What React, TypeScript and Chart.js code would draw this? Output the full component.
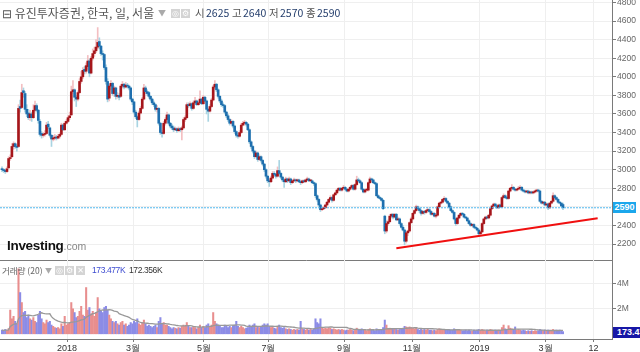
import React, { useEffect, useRef } from "react";
import { Chart, registerables } from "chart.js";
Chart.register(...registerables);

const opens = [
3010,3000,2990,2980,3020,3120,3140,3250,3280,3250,
3250,3680,3670,3850,3820,3650,3610,3560,3600,3560,
3640,3690,3640,3520,3390,3370,3380,3390,3490,3450,
3370,3330,3340,3350,3340,3360,3380,3480,3430,3500,
3520,3560,3590,3840,3860,3780,3760,3830,3950,4000,
4080,4060,4110,4170,4040,4200,4250,4280,4320,4380,
4330,4250,4240,4100,3950,3770,3900,3930,3820,3880,
3790,3800,3790,3900,3920,3890,3910,3900,3880,3760,
3730,3620,3570,3540,3610,3660,3760,3880,3840,3830,
3790,3760,3720,3700,3650,3660,3500,3400,3390,3500,
3540,3590,3500,3470,3450,3430,3440,3420,3440,3430,
3450,3540,3560,3700,3690,3710,3660,3720,3740,3700,
3720,3760,3710,3780,3740,3650,3630,3680,3750,3890,
3920,3860,3790,3740,3700,3690,3620,3580,3540,3500,
3520,3470,3410,3370,3360,3400,3480,3500,3510,3490,
3430,3300,3250,3200,3140,3180,3110,3140,3100,3060,
3000,2930,2880,2870,2910,2960,2950,2930,2990,2960,
2920,2890,2870,2900,2880,2900,2860,2880,2890,2880,
2890,2870,2860,2880,2870,2890,2900,2880,2880,2860,
2850,2720,2680,2620,2570,2580,2590,2620,2650,2680,
2700,2670,2730,2750,2780,2800,2780,2800,2810,2790,
2770,2790,2810,2830,2790,2840,2890,2880,2860,2790,
2760,2780,2780,2860,2900,2890,2860,2850,2720,2700,
2690,2670,2500,2340,2420,2440,2500,2520,2490,2520,
2460,2470,2420,2380,2350,2230,2320,2340,2430,2470,
2530,2560,2600,2580,2560,2530,2550,2540,2560,2570,
2550,2520,2530,2500,2510,2600,2640,2650,2680,2690,
2660,2640,2600,2560,2540,2470,2420,2480,2510,2530,
2520,2490,2480,2450,2420,2400,2410,2380,2370,2350,
2310,2330,2420,2470,2490,2480,2510,2580,2610,2630,
2610,2590,2620,2600,2700,2720,2700,2690,2770,2800,
2810,2790,2780,2790,2800,2810,2780,2770,2760,2770,
2750,2760,2750,2760,2770,2780,2770,2660,2640,2650,
2620,2630,2590,2640,2660,2720,2700,2680,2650,2640,2625
];

const highs = [
3030,3010,3000,3030,3140,3160,3280,3300,3290,3270,
3700,3750,3920,3880,3840,3700,3650,3640,3620,3700,
3740,3710,3650,3540,3410,3400,3420,3510,3520,3460,
3380,3370,3380,3370,3380,3400,3500,3490,3520,3540,
3580,3620,3900,3960,3870,3800,3850,3980,4060,4100,
4110,4150,4230,4190,4220,4300,4320,4400,4530,4420,
4340,4280,4250,4130,3980,3920,3960,3940,3900,3890,
3830,3820,3920,3950,3930,3940,3930,3910,3890,3770,
3740,3640,3580,3630,3680,3780,3920,3900,3860,3840,
3800,3770,3740,3710,3690,3670,3510,3420,3520,3560,
3620,3600,3510,3490,3470,3460,3450,3460,3450,3470,
3560,3580,3720,3720,3730,3720,3740,3780,3750,3740,
3850,3770,3800,3790,3750,3660,3700,3770,3910,3960,
3930,3870,3800,3760,3720,3700,3630,3600,3550,3540,
3530,3480,3420,3390,3420,3500,3520,3530,3520,3500,
3440,3310,3260,3210,3200,3190,3160,3150,3110,3070,
3010,2940,2900,2930,2980,2980,2960,3030,3100,2970,
2930,2900,2920,2910,2920,2910,2890,2910,2900,2900,
2900,2880,2890,2890,2900,2920,2910,2890,2890,2870,
2860,2730,2690,2630,2600,2610,2630,2660,2690,2720,
2710,2740,2760,2790,2810,2810,2810,2830,2820,2800,
2800,2820,2840,2840,2850,2930,2910,2890,2870,2800,
2790,2800,2870,2920,2910,2900,2870,2860,2730,2710,
2700,2680,2510,2450,2460,2520,2530,2530,2530,2530,
2490,2480,2430,2400,2360,2330,2350,2440,2490,2540,
2570,2620,2610,2590,2570,2560,2560,2570,2590,2580,
2560,2540,2540,2520,2610,2650,2660,2690,2710,2700,
2670,2650,2610,2570,2550,2480,2490,2520,2540,2540,
2530,2500,2490,2460,2430,2420,2420,2390,2380,2360,
2340,2430,2480,2500,2500,2520,2590,2620,2640,2640,
2620,2630,2630,2710,2740,2730,2710,2780,2810,2840,
2820,2800,2800,2820,2830,2820,2790,2780,2780,2780,
2770,2770,2770,2780,2790,2790,2780,2670,2660,2660,
2640,2640,2650,2670,2750,2730,2710,2690,2660,2650,2640
];

const lows = [
2980,2970,2960,2970,3010,3100,3130,3220,3230,3200,
3240,3620,3660,3780,3620,3570,3540,3530,3520,3550,
3620,3620,3500,3360,3340,3350,3360,3380,3440,3350,
3250,3310,3320,3320,3330,3340,3370,3420,3420,3490,
3510,3540,3580,3820,3740,3680,3740,3820,3930,3980,
4030,4040,4080,4000,4030,4180,4220,4260,4300,4300,
4230,4180,4080,3920,3730,3740,3860,3800,3790,3760,
3770,3750,3780,3880,3870,3880,3880,3860,3740,3700,
3600,3550,3460,3530,3600,3650,3750,3820,3800,3770,
3740,3700,3680,3630,3620,3480,3380,3350,3380,3480,
3520,3480,3450,3430,3410,3420,3400,3410,3410,3320,
3440,3520,3550,3670,3680,3640,3650,3710,3690,3690,
3710,3700,3700,3730,3600,3520,3620,3670,3740,3870,
3840,3770,3720,3680,3670,3600,3560,3520,3480,3490,
3450,3390,3350,3340,3350,3390,3470,3480,3470,3420,
3280,3230,3180,3120,3130,3090,3100,3080,3040,2980,
2910,2860,2820,2860,2900,2930,2910,2920,2950,2900,
2870,2810,2860,2860,2870,2840,2850,2870,2860,2870,
2860,2840,2850,2860,2860,2880,2870,2870,2850,2830,
2700,2660,2600,2550,2560,2570,2580,2610,2640,2670,
2650,2660,2720,2740,2770,2770,2770,2790,2780,2760,
2760,2780,2800,2780,2780,2830,2870,2850,2780,2750,
2750,2770,2770,2850,2870,2850,2840,2710,2690,2680,
2660,2570,2310,2320,2400,2430,2480,2470,2480,2450,
2450,2400,2370,2340,2190,2210,2290,2330,2420,2460,
2520,2550,2570,2540,2510,2520,2520,2530,2550,2540,
2510,2510,2490,2480,2500,2590,2630,2640,2670,2650,
2630,2590,2550,2530,2460,2400,2410,2470,2500,2510,
2480,2470,2440,2410,2390,2390,2370,2360,2340,2290,
2290,2320,2410,2460,2470,2470,2500,2570,2600,2600,
2580,2580,2590,2590,2690,2690,2680,2680,2760,2790,
2780,2770,2770,2780,2790,2770,2760,2750,2750,2740,
2740,2740,2740,2750,2760,2760,2650,2630,2630,2610,
2610,2570,2580,2630,2650,2690,2670,2640,2630,2600,2570
];

const closes = [
3000,2990,2980,3010,3120,3130,3250,3280,3250,3240,
3660,3660,3830,3830,3650,3600,3560,3600,3560,3640,
3690,3640,3530,3380,3370,3380,3390,3480,3460,3370,
3330,3340,3350,3340,3360,3380,3480,3430,3500,3520,
3560,3580,3840,3860,3780,3760,3830,3950,4000,4070,
4060,4120,4170,4040,4200,4250,4280,4320,4370,4330,
4250,4240,4100,3950,3760,3900,3930,3820,3880,3790,
3800,3780,3900,3920,3890,3910,3900,3880,3760,3730,
3620,3570,3540,3610,3660,3760,3880,3840,3820,3790,
3760,3720,3700,3650,3660,3500,3400,3390,3500,3540,
3590,3500,3470,3450,3430,3440,3420,3440,3430,3450,
3540,3560,3700,3690,3710,3660,3720,3740,3700,3720,
3760,3710,3780,3740,3650,3630,3680,3750,3890,3920,
3860,3790,3740,3700,3690,3620,3580,3540,3500,3520,
3470,3410,3370,3360,3400,3480,3500,3510,3490,3430,
3300,3250,3200,3140,3180,3110,3140,3100,3060,3000,
2930,2880,2870,2910,2960,2950,2930,2990,2960,2920,
2890,2870,2900,2880,2900,2860,2880,2890,2880,2890,
2870,2860,2880,2870,2890,2900,2880,2880,2860,2850,
2720,2680,2620,2570,2580,2590,2620,2650,2680,2700,
2670,2730,2750,2780,2800,2780,2800,2810,2790,2770,
2790,2810,2830,2790,2840,2890,2880,2860,2790,2760,
2780,2780,2860,2900,2890,2860,2850,2720,2700,2690,
2670,2580,2340,2420,2440,2500,2520,2490,2520,2460,
2470,2420,2380,2350,2230,2320,2340,2430,2470,2530,
2560,2600,2580,2560,2530,2550,2540,2560,2570,2550,
2520,2530,2500,2510,2600,2640,2650,2680,2690,2660,
2640,2600,2560,2540,2470,2420,2480,2510,2530,2520,
2490,2480,2450,2420,2400,2410,2380,2370,2350,2310,
2330,2420,2470,2490,2480,2510,2580,2610,2630,2610,
2590,2620,2600,2700,2720,2700,2690,2770,2800,2810,
2790,2780,2790,2800,2810,2780,2770,2760,2770,2750,
2760,2750,2760,2770,2780,2770,2660,2640,2650,2620,
2630,2590,2640,2660,2720,2700,2680,2650,2640,2610,2590
];

// volume in thousands of shares
const volumes = [
300,250,350,280,420,1900,1200,1400,1000,800,
5200,3300,2500,1700,1800,1300,1500,1200,1100,1300,
1000,900,1500,1800,1200,900,800,1100,900,1000,
700,600,500,450,500,400,800,600,1400,700,
800,900,2500,2000,1700,1300,1400,1800,2200,1500,
1400,3700,1900,2100,1600,1800,1400,1700,2900,2000,
1800,1700,2100,2200,1900,1500,1200,1000,900,1000,
800,700,900,1000,700,800,600,700,900,800,
1000,900,1200,800,700,900,1100,800,600,700,
600,500,600,700,500,1000,1300,800,900,700,
700,600,500,400,500,450,400,500,450,600,
700,600,900,600,500,500,600,500,400,500,
700,500,600,500,700,800,600,700,1700,1000,
800,700,600,500,500,700,600,500,600,500,
600,700,1000,600,500,600,500,400,450,500,
700,600,700,800,500,600,500,600,700,800,
700,800,600,500,600,450,400,600,700,500,
450,500,400,350,400,350,300,350,300,350,
300,1000,400,350,300,400,300,350,300,400,
1200,900,800,1200,500,400,450,400,500,450,
350,400,350,300,350,300,350,300,250,300,
300,350,300,250,300,450,350,300,400,350,
300,250,350,400,300,300,250,400,350,300,
300,500,1100,700,400,450,400,350,400,350,
300,350,400,450,600,550,500,550,500,450,
400,500,350,300,350,300,350,300,400,300,
300,250,300,250,350,400,350,300,350,300,
300,350,300,300,400,350,300,350,300,250,
250,300,250,300,250,200,300,250,300,350,
300,350,300,250,300,250,350,300,250,300,
250,300,250,500,700,400,350,650,450,400,
350,550,300,350,300,250,300,250,200,250,
200,250,200,250,200,250,350,300,250,300,
250,300,250,300,350,250,300,250,300,250,173
];

const monthTickIdx = [39.4, 79.4, 122.4, 161.5, 207.3, 248.5, 289.4, 329.4, 358.5];
const monthTickLabels = ["2018", "3월", "5월", "7월", "9월", "11월", "2019", "3월", "12"];
const priceTicks = [2200, 2400, 2600, 2800, 3000, 3200, 3400, 3600, 3800, 4000, 4200, 4400, 4600, 4800];
const volumeTicks = [2000, 4000];
const lastPrice = 2590;
const trendIdx = [239, 361];
const trendVals = [2155, 2478];
const maPeriod = 20;

function movingAverage(vals: number[], n: number): number[] {
  return vals.map((_, i) => {
    const s = Math.max(0, i - n + 1);
    let sum = 0;
    for (let k = s; k <= i; k++) sum += vals[k];
    return sum / (i - s + 1);
  });
}

const X_MIN = -1.21;
const X_MAX = 369.7;
const GRID = "#efefef";
const AXIS = "#7a7a7a";

export default function App() {
  const mainRef = useRef<HTMLCanvasElement>(null);
  const volRef = useRef<HTMLCanvasElement>(null);

  useEffect(() => {
    const up = closes.map((c, i) => c >= opens[i]);
    const idx = closes.map((_, i) => i);

    const main = new Chart(mainRef.current as HTMLCanvasElement, {
      type: "bar",
      data: {
        datasets: [
          {
            type: "bar",
            data: idx.map((i) => ({ x: i, y: [lows[i], highs[i]] })) as any,
            backgroundColor: idx.map((i) => (up[i] ? "#f3bfc2" : "#a9d4e2")),
            barThickness: 1,
            grouped: false,
            order: 4,
          } as any,
          {
            type: "bar",
            data: idx.map((i) => ({ x: i, y: [opens[i], closes[i]] })) as any,
            backgroundColor: idx.map((i) => (up[i] ? "#a5161b" : "#1f6fae")),
            barThickness: 2,
            minBarLength: 1,
            grouped: false,
            order: 3,
          } as any,
          {
            type: "line",
            data: [
              { x: X_MIN, y: lastPrice },
              { x: X_MAX, y: lastPrice },
            ],
            borderColor: "#52b9ee",
            borderWidth: 1,
            borderDash: [2, 1],
            pointRadius: 0,
            order: 2,
          } as any,
          {
            type: "line",
            data: trendIdx.map((x, k) => ({ x, y: trendVals[k] })),
            borderColor: "#f01010",
            borderWidth: 2,
            pointRadius: 0,
            order: 1,
          } as any,
        ],
      },
      options: {
        animation: false,
        responsive: false,
        maintainAspectRatio: false,
        layout: { padding: 0 },
        plugins: { legend: { display: false }, tooltip: { enabled: false } },
        scales: {
          x: {
            type: "linear",
            offset: false,
            min: X_MIN,
            max: X_MAX,
            afterBuildTicks: (axis: any) => {
              axis.ticks = monthTickIdx.map((v) => ({ value: v }));
            },
            ticks: { display: false },
            grid: { color: GRID, drawTicks: false, offset: false },
            border: { display: true, color: AXIS },
            afterFit: (s: any) => {
              s.height = 1;
              s.paddingLeft = 0;
              s.paddingRight = 0;
            },
          },
          y: {
            type: "linear",
            position: "right",
            min: 2027.8,
            max: 4826.9,
            afterBuildTicks: (axis: any) => {
              axis.ticks = priceTicks.map((v) => ({ value: v }));
            },
            ticks: {
              callback: (v: any) => String(v),
              color: "#666",
              font: { size: 8.5, family: "Arial, 'Liberation Sans', sans-serif" },
              padding: 1,
            },
            grid: { color: GRID, tickColor: AXIS, tickLength: 4 },
            border: { display: true, color: AXIS },
            afterFit: (s: any) => {
              s.width = 28;
              s.paddingTop = 0;
              s.paddingBottom = 0;
            },
          },
        },
      } as any,
    });

    const ma = movingAverage(volumes, maPeriod);

    const vol = new Chart(volRef.current as HTMLCanvasElement, {
      type: "bar",
      data: {
        datasets: [
          {
            type: "line",
            data: idx.map((i) => ({ x: i, y: ma[i] })),
            borderColor: "#999999",
            borderWidth: 1.3,
            pointRadius: 0,
            tension: 0,
            order: 1,
          } as any,
          {
            type: "bar",
            data: idx.map((i) => ({ x: i, y: volumes[i] })),
            backgroundColor: idx.map((i) => (up[i] ? "#e88e8e" : "#8c8ce6")),
            barThickness: 1.4,
            grouped: false,
            order: 2,
          } as any,
        ],
      },
      options: {
        animation: false,
        responsive: false,
        maintainAspectRatio: false,
        layout: { padding: 0 },
        plugins: { legend: { display: false }, tooltip: { enabled: false } },
        scales: {
          x: {
            type: "linear",
            offset: false,
            min: X_MIN,
            max: X_MAX,
            afterBuildTicks: (axis: any) => {
              axis.ticks = monthTickIdx.map((v) => ({ value: v }));
            },
            ticks: {
              callback: (_v: any, k: number) => monthTickLabels[k],
              color: "#333",
              font: { size: 9, family: "Arial, 'Liberation Sans', sans-serif" },
              padding: 1,
              maxRotation: 0,
              autoSkip: false,
            },
            grid: { color: GRID, tickColor: AXIS, tickLength: 3, offset: false },
            border: { display: true, color: AXIS },
            afterFit: (s: any) => {
              s.height = 13;
              s.paddingLeft = 0;
              s.paddingRight = 0;
            },
          },
          y: {
            type: "linear",
            position: "right",
            min: -416,
            max: 5904,
            afterBuildTicks: (axis: any) => {
              axis.ticks = volumeTicks.map((v) => ({ value: v }));
            },
            ticks: {
              callback: (v: any) => v / 1000 + "M",
              color: "#666",
              font: { size: 8.5, family: "Arial, 'Liberation Sans', sans-serif" },
              padding: 1,
            },
            grid: { color: GRID, tickColor: AXIS, tickLength: 4 },
            border: { display: true, color: AXIS },
            afterFit: (s: any) => {
              s.width = 28;
              s.paddingTop = 0;
              s.paddingBottom = 0;
            },
          },
        },
      } as any,
    });

    return () => {
      main.destroy();
      vol.destroy();
    };
  }, []);

  const hdr: React.CSSProperties = {
    position: "absolute",
    whiteSpace: "nowrap",
    fontFamily: "'Noto Sans CJK KR', 'Noto Sans', Arial, sans-serif",
    lineHeight: "14px",
  };
  const icon = (left: number, top: number, ch: string): React.ReactElement => (
    <div
      key={left + "-" + top}
      style={{
        position: "absolute",
        left,
        top,
        width: 9,
        height: 9,
        background: "#d4d4d4",
        color: "#fff",
        fontSize: 8,
        lineHeight: "9px",
        textAlign: "center",
        fontFamily: "'DejaVu Sans', sans-serif",
      }}
    >
      {ch}
    </div>
  );

  return (
    <div
      style={{
        position: "fixed",
        left: 0,
        top: 0,
        width: 640,
        height: 352,
        background: "#ffffff",
        overflow: "hidden",
      }}
    >
      <canvas ref={mainRef} width={640} height={261} style={{ position: "absolute", left: 0, top: 0 }} />
      <canvas ref={volRef} width={640} height={92} style={{ position: "absolute", left: 0, top: 260 }} />

      {/* header */}
      <div style={{ ...hdr, left: 2, top: 6, fontSize: 12, color: "#555" }}>⊟ 유진투자증권, 한국, 일, 서울</div>
      <div style={{ ...hdr, left: 158, top: 6, fontSize: 8, color: "#aaa" }}>▼</div>
      {icon(171, 9, "◎")}
      {icon(181, 9, "⚙")}
      <div style={{ ...hdr, left: 195, top: 6, fontSize: 10.5, color: "#555" }}>시</div>
      <div style={{ ...hdr, left: 206, top: 6, fontSize: 10.5, color: "#27406e" }}>2625</div>
      <div style={{ ...hdr, left: 232, top: 6, fontSize: 10.5, color: "#555" }}>고</div>
      <div style={{ ...hdr, left: 243, top: 6, fontSize: 10.5, color: "#27406e" }}>2640</div>
      <div style={{ ...hdr, left: 269, top: 6, fontSize: 10.5, color: "#555" }}>저</div>
      <div style={{ ...hdr, left: 280, top: 6, fontSize: 10.5, color: "#27406e" }}>2570</div>
      <div style={{ ...hdr, left: 306, top: 6, fontSize: 10.5, color: "#555" }}>종</div>
      <div style={{ ...hdr, left: 317, top: 6, fontSize: 10.5, color: "#27406e" }}>2590</div>

      {/* volume header */}
      <div style={{ ...hdr, left: 2, top: 263, fontSize: 8.5, color: "#666" }}>거래량 (20)</div>
      <div style={{ ...hdr, left: 45, top: 263, fontSize: 7, color: "#aaa" }}>▼</div>
      {icon(55, 266, "◎")}
      {icon(65, 266, "⚙")}
      {icon(76, 266, "✕")}
      <div style={{ ...hdr, left: 92, top: 263, fontSize: 8.5, letterSpacing: -0.4, color: "#3c4bd0", fontFamily: "Arial, sans-serif" }}>173.477K</div>
      <div style={{ ...hdr, left: 129, top: 263, fontSize: 8.5, letterSpacing: -0.4, color: "#333", fontFamily: "Arial, sans-serif" }}>172.356K</div>

      {/* logo */}
      <div style={{ position: "absolute", left: 7, top: 236, whiteSpace: "nowrap", fontFamily: "Arial, 'Liberation Sans', sans-serif", lineHeight: "18px" }}>
        <span style={{ fontSize: 13.5, fontWeight: "bold", color: "#111", letterSpacing: -0.3 }}>Investing</span>
        <span style={{ fontSize: 10.5, color: "#888" }}>.com</span>
      </div>

      {/* price label box */}
      <div
        style={{
          position: "absolute",
          left: 613,
          top: 202,
          width: 23,
          height: 11,
          background: "#1ba7ec",
          color: "#fff",
          fontSize: 9,
          fontWeight: "bold",
          lineHeight: "11px",
          textAlign: "center",
          fontFamily: "Arial, sans-serif",
        }}
      >
        2590
      </div>
      {/* volume label box */}
      <div
        style={{
          position: "absolute",
          left: 613,
          top: 327,
          width: 27,
          height: 11,
          background: "#1717a6",
          color: "#fff",
          fontSize: 9,
          fontWeight: "bold",
          lineHeight: "11px",
          whiteSpace: "nowrap",
          overflow: "hidden",
          paddingLeft: 4,
          boxSizing: "border-box",
          fontFamily: "Arial, sans-serif",
        }}
      >
        173.477K
      </div>
    </div>
  );
}
